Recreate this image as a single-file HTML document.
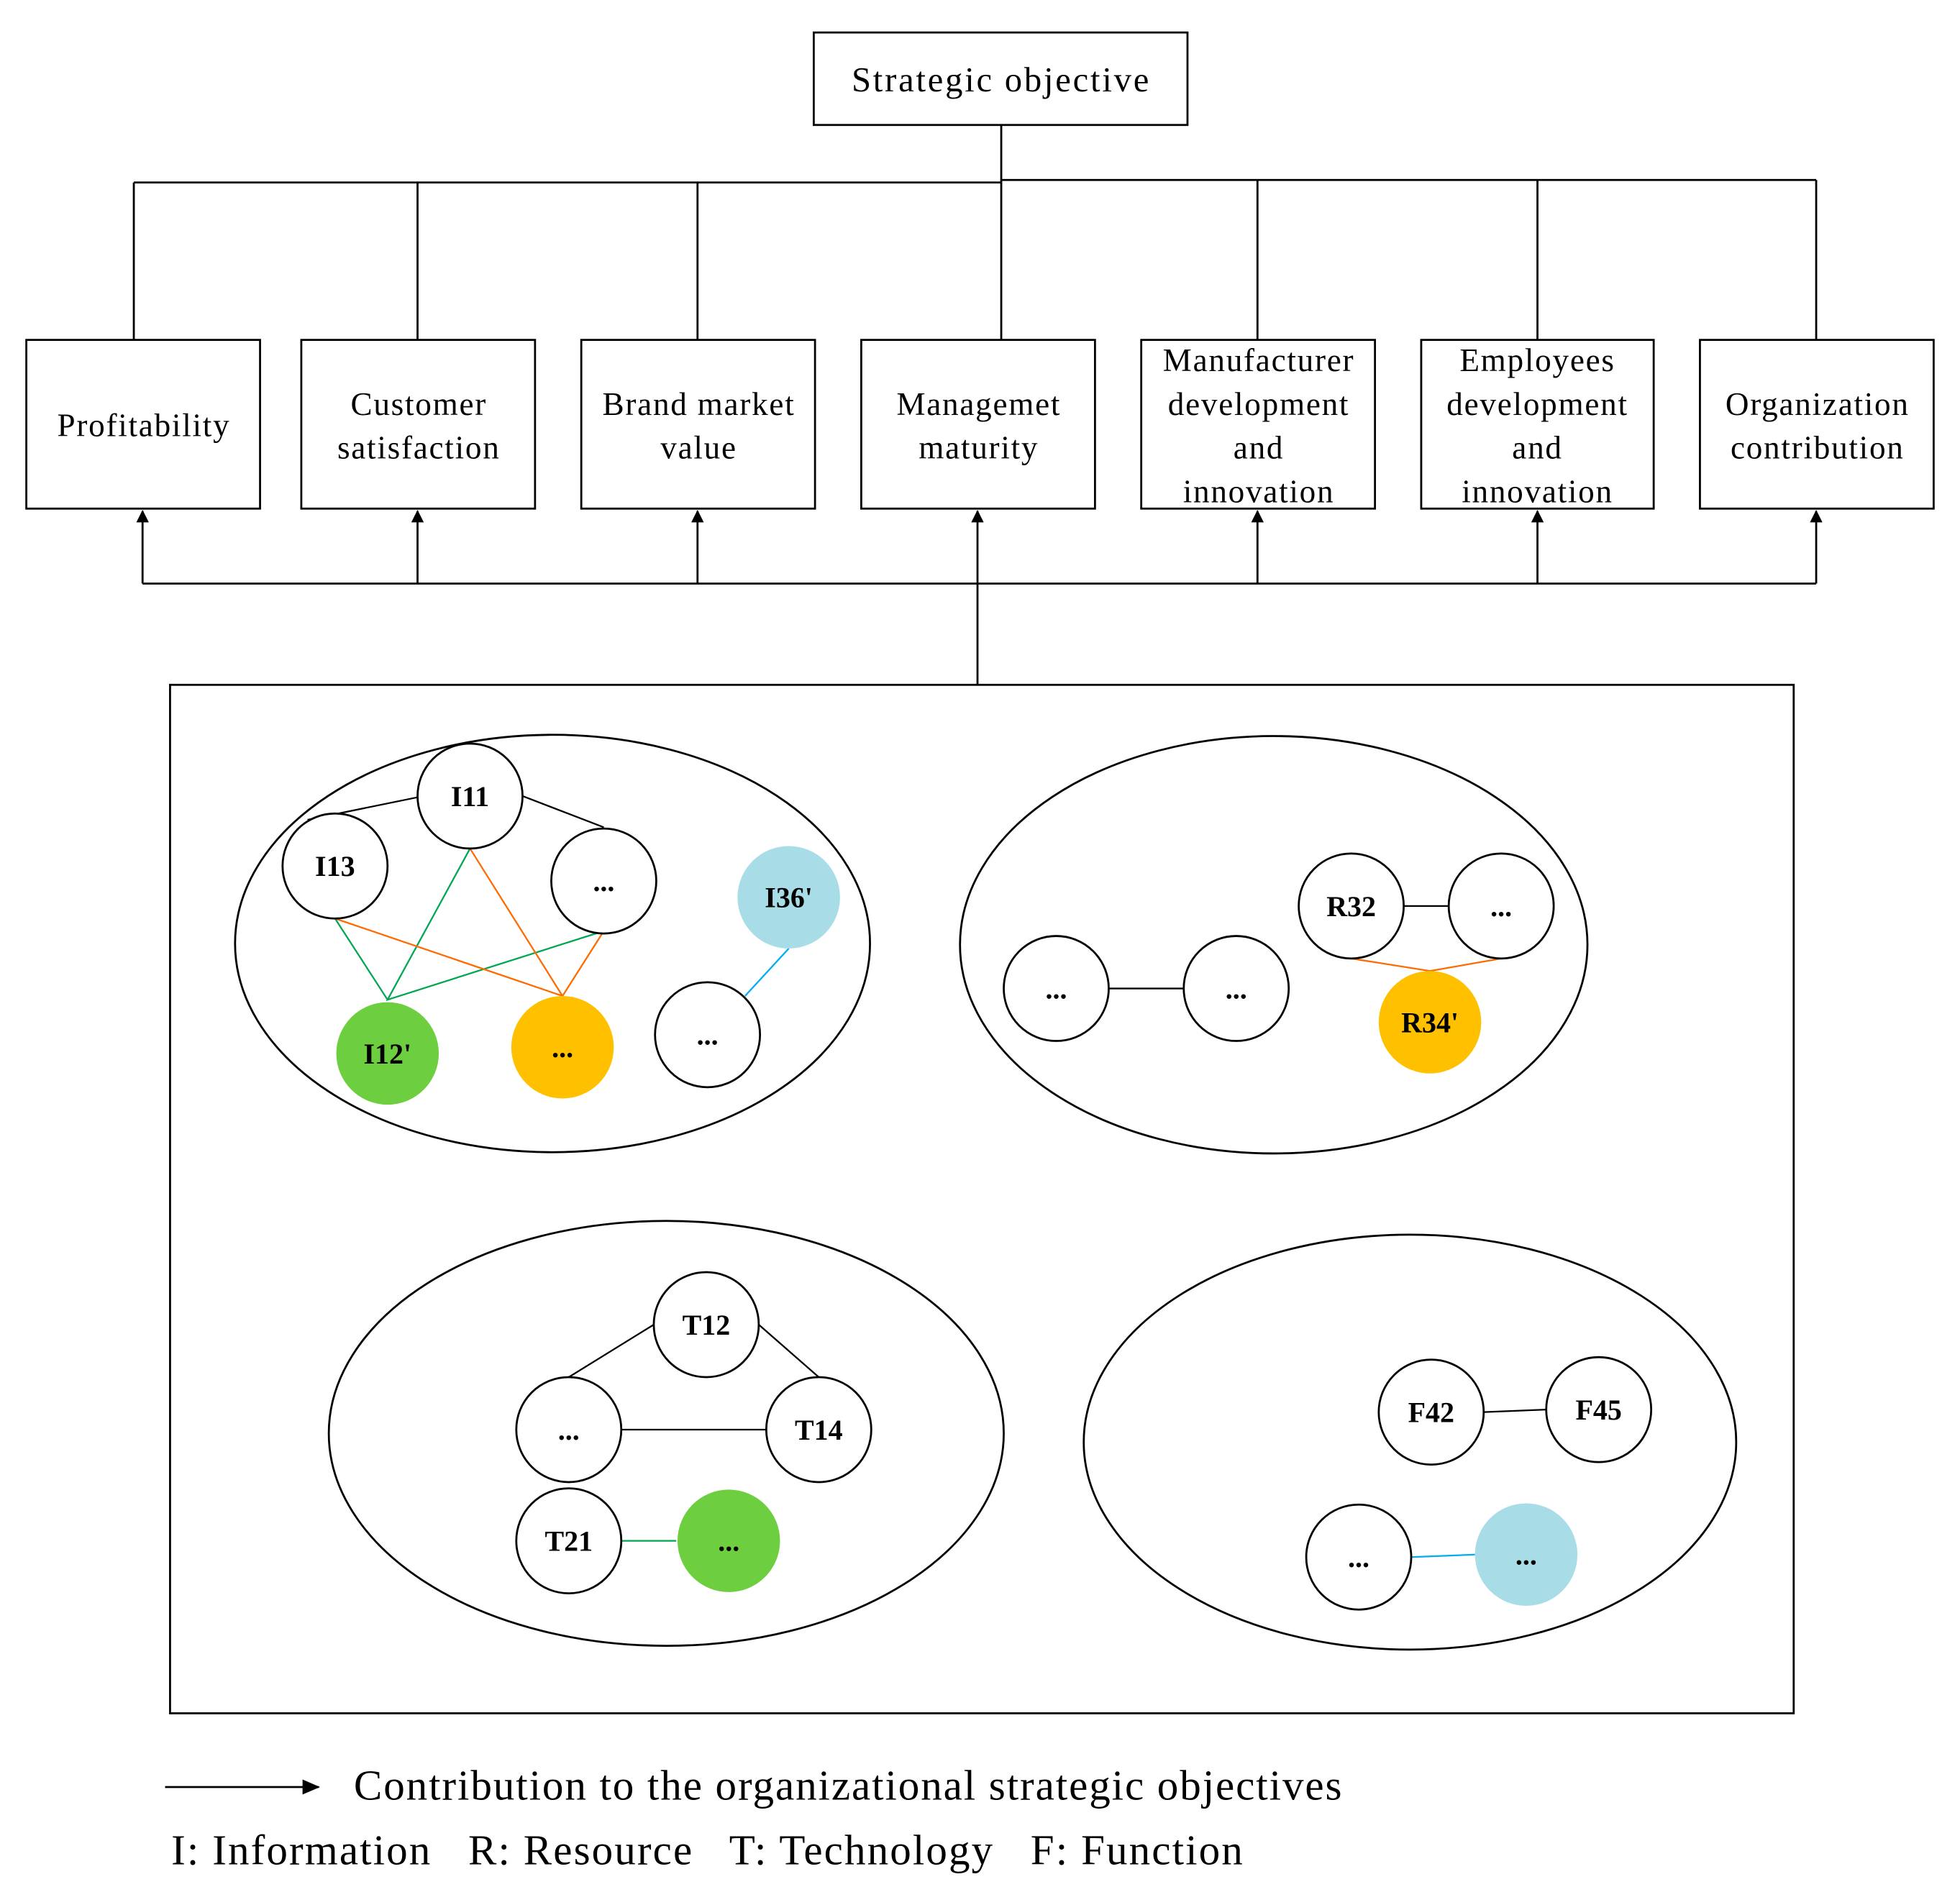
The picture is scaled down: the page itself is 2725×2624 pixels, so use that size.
<!DOCTYPE html>
<html><head><meta charset="utf-8">
<style>html,body{margin:0;padding:0;background:#fff;}svg{display:block;}</style></head>
<body>
<svg width="2725" height="2624" viewBox="0 0 1568 1510" xmlns="http://www.w3.org/2000/svg">
<defs><marker id="a" markerWidth="10" markerHeight="10" refX="9" refY="5" orient="auto" markerUnits="userSpaceOnUse"><path d="M0,0 L10,5 L0,10 z" fill="#000"/></marker>
<marker id="b" markerWidth="14" markerHeight="14" refX="13" refY="7" orient="auto" markerUnits="userSpaceOnUse"><path d="M0,1 L14,7 L0,13 z" fill="#000"/></marker></defs>
<rect width="1568" height="1510" fill="#fff"/>
<g font-family="Liberation Serif, serif" fill="#000">
<rect x="651" y="26" width="299" height="74" fill="none" stroke="#000" stroke-width="1.6"/>
<text x="801" y="73" font-size="28" text-anchor="middle" letter-spacing="1.6">Strategic objective</text>
<g stroke="#000" stroke-width="1.6" fill="none">
<path d="M801,100 V146 M107,146 H801 M801,144 H1453"/>
<path d="M107,146 V272 M334,146 V272 M558,146 V272 M801,146 V272 M1006,144 V272 M1230,144 V272 M1453,144 V272"/>
<rect x="21" y="272" width="187" height="135"/><rect x="241" y="272" width="187" height="135"/>
<rect x="465" y="272" width="187" height="135"/><rect x="689" y="272" width="187" height="135"/>
<rect x="913" y="272" width="187" height="135"/><rect x="1137" y="272" width="186" height="135"/>
<rect x="1360" y="272" width="187" height="135"/>
<path d="M114,467 H1453 M782,467 V548"/>
<g marker-end="url(#a)"><path d="M114,467 V409"/><path d="M334,467 V409"/><path d="M558,467 V409"/><path d="M782,467 V409"/><path d="M1006,467 V409"/><path d="M1230,467 V409"/><path d="M1453,467 V409"/></g>
<rect x="136" y="548" width="1299" height="823"/>
<ellipse cx="442" cy="755" rx="254" ry="167"/><ellipse cx="1019" cy="756" rx="251" ry="167"/>
<ellipse cx="533" cy="1147" rx="270" ry="170"/><ellipse cx="1128" cy="1154" rx="261" ry="166"/>
</g>
<g font-size="26" text-anchor="middle" letter-spacing="1">
<text x="115" y="349">Profitability</text>
<text x="335" y="332">Customer</text><text x="335" y="367">satisfaction</text>
<text x="559" y="332">Brand market</text><text x="559" y="367">value</text>
<text x="783" y="332">Managemet</text><text x="783" y="367">maturity</text>
<text x="1007" y="297">Manufacturer</text><text x="1007" y="332">development</text><text x="1007" y="367">and</text><text x="1007" y="402">innovation</text>
<text x="1230" y="297">Employees</text><text x="1230" y="332">development</text><text x="1230" y="367">and</text><text x="1230" y="402">innovation</text>
<text x="1454" y="332">Organization</text><text x="1454" y="367">contribution</text>
</g>
<g stroke-width="1.3" fill="none">
<path d="M246,656 L334,638 M418,637 L483,662" stroke="#000"/>
<path d="M376,679 L310,800 L483,745 M268,735 L310,800" stroke="#00a651"/>
<path d="M268,735 L450,797 M376,679 L450,797 M483,745 L450,797" stroke="#ff6a00"/>
<path d="M631,759 L596,797" stroke="#00aeef"/>
<path d="M887,791 L947,791 M1123,725 L1159,725" stroke="#000"/>
<path d="M1081,767 L1144,777 L1201,767" stroke="#ff6a00"/>
<path d="M455,1102 L523,1060 M607,1060 L655,1102 M497,1144 L613,1144 M1187,1130 L1237,1128" stroke="#000"/>
<path d="M497,1233 L541,1233" stroke="#00a651"/>
<path d="M1129,1246 L1180,1244" stroke="#00aeef"/>
</g>
<g stroke="#000" stroke-width="1.6">
<circle cx="376" cy="637" r="42" fill="#fff"/><circle cx="268" cy="693" r="42" fill="#fff"/>
<circle cx="483" cy="705" r="42" fill="#fff"/><circle cx="631" cy="718" r="41" fill="#a8dde8" stroke="none"/>
<circle cx="566" cy="828" r="42" fill="#fff"/><circle cx="310" cy="843" r="41" fill="#6dcf3f" stroke="none"/>
<circle cx="450" cy="838" r="41" fill="#ffc000" stroke="none"/>
<circle cx="845" cy="791" r="42" fill="#fff"/><circle cx="989" cy="791" r="42" fill="#fff"/>
<circle cx="1081" cy="725" r="42" fill="#fff"/><circle cx="1201" cy="725" r="42" fill="#fff"/>
<circle cx="1144" cy="818" r="41" fill="#ffc000" stroke="none"/>
<circle cx="565" cy="1060" r="42" fill="#fff"/><circle cx="455" cy="1144" r="42" fill="#fff"/>
<circle cx="655" cy="1144" r="42" fill="#fff"/><circle cx="455" cy="1233" r="42" fill="#fff"/>
<circle cx="583" cy="1233" r="41" fill="#6dcf3f" stroke="none"/>
<circle cx="1145" cy="1130" r="42" fill="#fff"/><circle cx="1279" cy="1128" r="42" fill="#fff"/>
<circle cx="1087" cy="1246" r="42" fill="#fff"/><circle cx="1221" cy="1244" r="41" fill="#a8dde8" stroke="none"/>
</g>
<g font-size="23" font-weight="bold" text-anchor="middle">
<text x="376" y="645">I11</text><text x="268" y="701">I13</text><text x="483" y="713">...</text>
<text x="631" y="726">I36'</text><text x="566" y="836">...</text><text x="310" y="851">I12'</text><text x="450" y="846">...</text>
<text x="845" y="799">...</text><text x="989" y="799">...</text><text x="1081" y="733">R32</text><text x="1201" y="733">...</text>
<text x="1144" y="826">R34'</text>
<text x="565" y="1068">T12</text><text x="455" y="1152">...</text><text x="655" y="1152">T14</text>
<text x="455" y="1241">T21</text><text x="583" y="1241">...</text>
<text x="1145" y="1138">F42</text><text x="1279" y="1136">F45</text><text x="1087" y="1254">...</text><text x="1221" y="1252">...</text>
</g>
<path d="M132,1430 H255" stroke="#000" stroke-width="1.6" marker-end="url(#b)"/>
<text x="283" y="1440" font-size="34" letter-spacing="1.1">Contribution to the organizational strategic objectives</text>
<text x="137" y="1492" font-size="34" letter-spacing="1.2" xml:space="preserve">I: Information   R: Resource   T: Technology   F: Function</text>
</g>
</svg>
</body></html>
